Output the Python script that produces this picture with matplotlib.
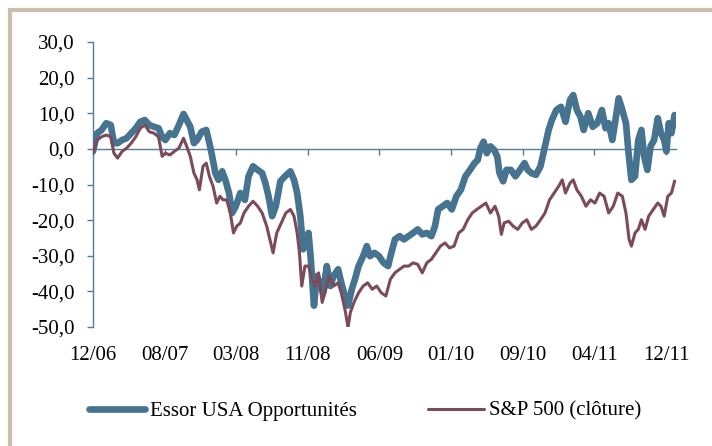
import matplotlib
matplotlib.use("Agg")
import matplotlib.pyplot as plt
import matplotlib.patches as mpatches
import matplotlib.transforms as mtransforms

# ---- data: months since Dec 2006, performance in % ----
essor_month = [0, 0.43, 0.90, 1.38, 1.86, 2.19, 2.57, 3.05, 3.52, 4.0, 4.48, 4.95, 5.43, 5.90,
               6.38, 6.86, 7.24, 7.57, 8.05, 8.52, 9.0, 9.48, 9.81, 10.19, 10.57, 10.90, 11.38,
               11.86, 12.19, 12.48, 12.81, 13.14, 13.52, 13.86, 14.24, 14.57, 14.95, 15.43, 15.90,
               16.29, 16.76, 17.24, 17.71, 18.05, 18.38, 18.76, 19.14, 19.62, 20.10, 20.67, 21.05,
               21.38, 21.71, 22.0, 22.33, 22.57, 22.81, 23.14, 23.43, 23.76, 24.10, 24.48, 24.86,
               25.19, 25.67, 26.0, 26.38, 26.71, 27.10, 27.43, 27.81, 28.29, 28.67, 29.0, 29.48,
               29.95, 30.43, 30.90, 31.24, 31.62, 32.10, 32.57, 33.05, 33.52, 34.0, 34.48, 34.95,
               35.43, 35.81, 36.14, 36.62, 37.10, 37.57, 38.05, 38.52, 39.0, 39.48, 39.95, 40.29,
               40.57, 40.90, 41.24, 41.62, 42.0, 42.33, 42.57, 42.95, 43.29, 43.76, 44.24, 44.71,
               45.19, 45.52, 45.90, 46.38, 46.86, 47.33, 47.71, 48.05, 48.52, 49.0, 49.48, 49.95,
               50.29, 50.67, 51.05, 51.38, 51.86, 52.33, 52.81, 53.29, 53.67, 54.0, 54.38, 54.71,
               55.05, 55.43, 55.81, 56.05, 56.38, 56.76, 57.10, 57.43, 57.71, 58.05, 58.38, 58.76,
               59.14, 59.48, 59.81, 60.05, 60.29, 60.57, 60.90]
essor_val = [-0.7, 4.4, 5.3, 7.2, 6.7, 1.6, 1.6, 2.5, 3.0, 4.4, 5.8, 7.6, 8.1, 6.7,
             6.2, 5.8, 3.4, 2.5, 4.4, 3.9, 6.7, 9.8, 8.1, 6.2, 1.6, 2.5, 4.8,
             5.3, 1.6, -2.1, -6.8, -8.7, -6.3, -8.7, -12.4, -18.0, -16.1, -12.4, -14.3,
             -7.7, -4.9, -5.9, -6.8, -9.6, -13.3, -18.9, -16.1, -9.1, -7.7, -6.3, -8.7,
             -12.4, -18.9, -28.2, -25.4, -23.6, -31.0, -44.0, -35.7, -37.6, -40.4, -32.9, -38.5,
             -35.7, -33.8, -37.6, -41.3, -44.0, -39.4, -36.6, -32.9, -30.1, -27.3, -30.1, -29.2,
             -30.1, -32.0, -32.9, -29.2, -25.4, -24.5, -25.4, -24.5, -23.6, -22.6, -24.0, -23.6,
             -24.5, -21.7, -17.0, -16.1, -15.2, -17.0, -13.3, -11.5, -7.7, -5.9, -4.0, -3.1,
             0.2, 2.0, -1.2, 0.7, -0.3, -2.1, -6.8, -9.1, -5.9, -5.9, -7.7, -5.9,
             -4.0, -5.9, -6.8, -7.3, -4.9, 0.7, 5.3, 8.1, 10.9, 11.8, 7.6, 13.7,
             15.1, 10.9, 9.0, 5.3, 10.0, 6.2, 7.2, 10.9, 5.8, 7.2, 2.5, 8.1,
             14.2, 10.9, 7.2, -0.3, -8.7, -7.7, 2.5, 5.3, -2.1, -5.9, 0.7, 2.5,
             8.6, 4.4, 2.5, -0.7, 7.2, 4.4, 9.5]

sp_month = [0, 0.43, 0.90, 1.38, 1.86, 2.19, 2.57, 3.05, 3.52, 4.0, 4.48, 4.95, 5.43, 5.90,
            6.38, 6.86, 7.24, 7.57, 8.05, 8.52, 9.0, 9.48, 9.81, 10.19, 10.57, 10.90, 11.14,
            11.52, 11.86, 12.19, 12.57, 12.95, 13.29, 13.62, 14.0, 14.38, 14.71, 15.05, 15.43,
            15.81, 16.29, 16.76, 17.24, 17.71, 18.19, 18.52, 18.86, 19.24, 19.71, 20.19, 20.67,
            21.05, 21.38, 21.62, 21.86, 22.19, 22.57, 22.95, 23.29, 23.62, 24.0, 24.38, 24.71,
            25.19, 25.67, 26.0, 26.38, 26.71, 26.95, 27.33, 27.81, 28.29, 28.76, 29.24, 29.71,
            30.19, 30.67, 31.14, 31.62, 32.10, 32.57, 33.05, 33.52, 34.0, 34.48, 34.95, 35.43,
            35.90, 36.38, 36.86, 37.33, 37.81, 38.29, 38.76, 39.24, 39.71, 40.19, 40.67, 41.14,
            41.62, 42.10, 42.48, 42.76, 43.05, 43.52, 44.0, 44.48, 44.95, 45.43, 45.90, 46.38,
            46.86, 47.33, 47.81, 48.29, 48.76, 49.14, 49.48, 49.95, 50.29, 50.67, 51.14, 51.62,
            52.10, 52.57, 53.05, 53.52, 54.0, 54.48, 54.95, 55.43, 55.81, 56.14, 56.38, 56.76,
            57.10, 57.43, 57.81, 58.19, 58.67, 59.14, 59.48, 59.81, 60.19, 60.57, 60.90]
sp_val = [-1.0, 2.5, 3.4, 3.9, 3.4, -1.2, -2.6, -0.7, 0.2, 1.6, 3.4, 5.8, 6.7, 4.8,
          4.4, 3.4, -2.1, -1.2, -1.7, -0.7, 0.2, 3.0, 0.7, -2.1, -6.8, -8.7, -11.5,
          -4.9, -4.0, -7.7, -10.5, -15.2, -13.3, -14.3, -14.3, -18.0, -23.6, -21.7, -20.8,
          -18.0, -16.1, -14.7, -16.1, -18.0, -21.7, -25.4, -29.2, -23.6, -20.8, -18.0, -17.0,
          -18.9, -23.6, -29.2, -38.5, -32.9, -32.9, -36.6, -38.5, -34.8, -43.1, -39.4, -35.7,
          -38.5, -37.6, -40.4, -45.0, -50.1, -45.9, -43.1, -40.4, -38.5, -37.6, -39.4, -38.5,
          -40.4, -41.3, -36.6, -34.8, -33.8, -32.9, -32.9, -32.0, -32.4, -34.8, -32.0, -31.0,
          -29.2, -27.3, -26.4, -27.8, -27.3, -23.6, -22.6, -19.9, -18.0, -17.0, -16.1, -15.2,
          -18.0, -16.1, -18.9, -24.0, -20.8, -20.3, -21.7, -22.6, -20.8, -19.9, -22.6, -21.7,
          -19.9, -18.0, -14.3, -12.4, -10.5, -8.7, -12.4, -9.6, -8.7, -11.5, -13.3, -16.1,
          -14.3, -15.2, -12.4, -13.3, -18.0, -16.1, -12.4, -13.3, -18.0, -25.4, -27.3, -23.6,
          -22.6, -19.9, -22.6, -18.9, -17.0, -15.2, -16.1, -18.9, -13.3, -12.4, -9.1]

tick_month = [0, 7.5, 15, 22.5, 30, 37.5, 45, 52.5, 60]
tick_labels = ["12/06", "08/07", "03/08", "11/08", "06/09", "01/10", "09/10", "04/11", "12/11"]
y_ticks = [30, 20, 10, 0, -10, -20, -30, -40, -50]
series_names = ["Essor USA Opportunités", "S&P 500 (clôture)"]

# ---- style ----
BLUE = "#46738f"
MAROON = "#7b4b5b"
AXC = "#557d99"
FONT = "Liberation Serif"
FS = 15

W, H = 712, 446
fig = plt.figure(figsize=(W / 100, H / 100), dpi=100)
fig.patch.set_facecolor("white")

# frame border (top/left visible)
frame = mpatches.Rectangle((10 / W, -0.2), 1.3, 1.2 - 10 / H, transform=fig.transFigure,
                           fill=False, edgecolor="#c8bfaf", linewidth=3.0, clip_on=False)
fig.patches.append(frame)

ax = fig.add_axes([93 / W, 1 - 327 / H, (676 - 93) / W, (327 - 42) / H])
ax.set_facecolor("none")

ax.plot(essor_month, essor_val, color=BLUE, lw=4.8, solid_joinstyle="round",
        solid_capstyle="round", label=series_names[0], zorder=3)
ax.plot(sp_month, sp_val, color=MAROON, lw=2.2, solid_joinstyle="round",
        label=series_names[1], zorder=4)

ax.set_xlim(0, 61.05)
ax.set_ylim(-50, 30)

for s in ["top", "right"]:
    ax.spines[s].set_visible(False)
ax.spines["left"].set_color(AXC)
ax.spines["left"].set_linewidth(1.0)
ax.spines["bottom"].set_position(("data", 0))
ax.spines["bottom"].set_color(AXC)
ax.spines["bottom"].set_linewidth(1.0)
ax.spines["bottom"].set_zorder(2)

ax.set_yticks(y_ticks)
ax.set_yticklabels([f"{v:.1f}".replace(".", ",") for v in y_ticks],
                   fontfamily=FONT, fontsize=FS)
ax.tick_params(axis="y", direction="out", length=4, width=1, color=AXC, pad=9.5)
ax.set_xticks(tick_month)
ax.set_xticklabels([""] * len(tick_month))
ax.tick_params(axis="x", direction="out", length=4, width=1, color=AXC)

trans = mtransforms.blended_transform_factory(ax.transData, fig.transFigure)
for m, lab in zip(tick_month, tick_labels):
    ax.text(m, 1 - 356 / H, lab, transform=trans, ha="center", va="center",
            fontfamily=FONT, fontsize=FS, color="black")

leg = fig.legend(loc="center", bbox_to_anchor=(365 / W, 1 - 411 / H), ncol=2,
                 frameon=False, prop={"family": FONT, "size": FS},
                 handlelength=2.7, handletextpad=0.25, columnspacing=3.4)
for line in leg.get_lines():
    line.set_solid_capstyle("round")

fig.savefig("out.png", dpi=100)
